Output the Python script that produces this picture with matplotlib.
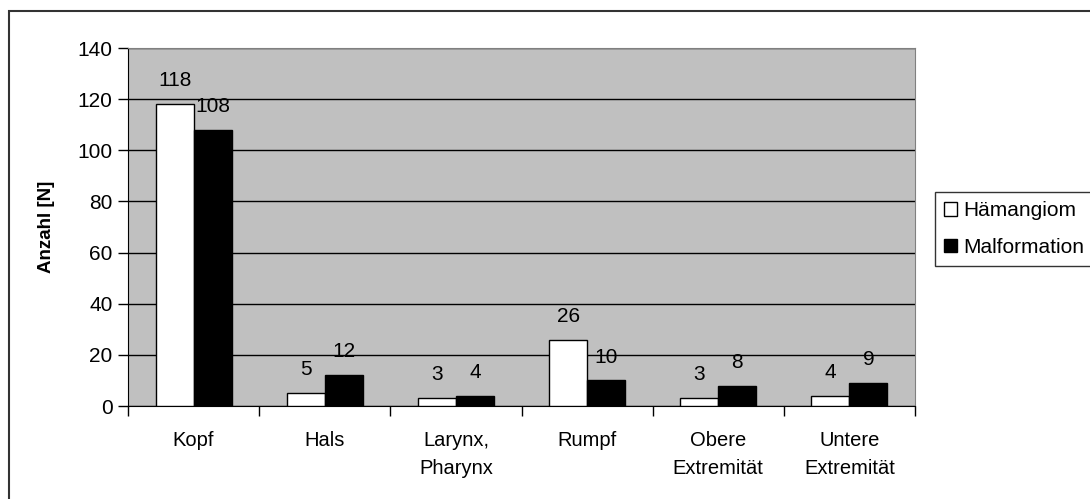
import matplotlib
matplotlib.use("Agg")
import matplotlib.pyplot as plt
from matplotlib.patches import Patch, Rectangle
import numpy as np

plt.rcParams["font.family"] = ["Liberation Sans", "DejaVu Sans"]

# Lokalisation der Gefäßanomalien
categories = ["Kopf", "Hals", "Larynx,\nPharynx", "Rumpf", "Obere\nExtremität", "Untere\nExtremität"]
haemangiom = [118, 5, 3, 26, 3, 4]
malformation = [108, 12, 4, 10, 8, 9]
series_names = ["Hämangiom", "Malformation"]

W, H = 1090, 499
fig = plt.figure(figsize=(W / 100, H / 100), dpi=100)
ax = fig.add_axes([128 / W, 1 - 406 / H, (915 - 128) / W, (406 - 48) / H])

x = np.arange(len(categories))
bw = 0.29
b1 = ax.bar(x - bw / 2, haemangiom, bw, color="white", edgecolor="black", lw=1, zorder=3)
b2 = ax.bar(x + bw / 2, malformation, bw, color="black", edgecolor="black", lw=1, zorder=3)

for bars, vals in ((b1, haemangiom), (b2, malformation)):
    for rect, v in zip(bars, vals):
        ax.annotate(str(v), (rect.get_x() + rect.get_width() / 2, v),
                    xytext=(0, 10), textcoords="offset points",
                    ha="center", va="bottom", fontsize=15)

ax.set_facecolor("#c0c0c0")
ax.set_xlim(-0.5, len(categories) - 0.5)
ax.set_ylim(0, 140)
ax.set_yticks(np.arange(0, 141, 20))
ax.yaxis.grid(True, color="black", lw=1, zorder=1)
ax.set_axisbelow(True)

# Ticks between the categories, labels centred under each group
ax.set_xticks(np.arange(-0.5, len(categories), 1))
ax.set_xticklabels([])
ax.set_xticks(x, minor=True)
ax.set_xticklabels(categories, minor=True, fontsize=14.5, linespacing=1.6, va="top")
ax.tick_params(axis="x", which="minor", length=0, pad=18)
ax.tick_params(axis="x", which="major", length=7, width=1, direction="out")
ax.tick_params(axis="y", length=7, width=1, labelsize=15, pad=4)

for s in ("top", "right"):
    ax.spines[s].set_color("#808080")
for s in ("left", "bottom"):
    ax.spines[s].set_color("black")

ax.set_ylabel("Anzahl [N]", fontsize=13.5, fontweight="bold", labelpad=16)

handles = [Patch(facecolor="white", edgecolor="black", lw=1),
           Patch(facecolor="black", edgecolor="black", lw=1)]
leg = fig.legend(handles, series_names, loc="upper left",
                 bbox_to_anchor=(935 / W, 1 - 192 / H), fontsize=15,
                 frameon=True, fancybox=False, edgecolor="black",
                 handlelength=0.6, handleheight=0.6, handletextpad=0.3,
                 borderpad=0.45, labelspacing=0.85, borderaxespad=0)
leg.get_frame().set_linewidth(1)

# Chart area border (runs off the right and bottom edge)
fig.add_artist(Rectangle((9 / W, -0.2), 2, 1.2 - 11 / H, transform=fig.transFigure,
                         fill=False, ec="#333333", lw=1.5))

fig.savefig("out.png", dpi=100)
